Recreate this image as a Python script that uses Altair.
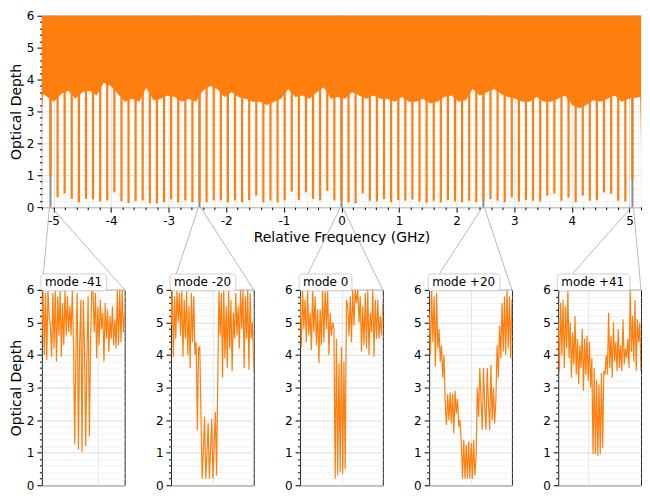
import altair as alt
import pandas as pd

# ---------------- data ----------------
mode_pos = [-5.051, -4.928, -4.805, -4.682, -4.558, -4.435, -4.312, -4.189, -4.066, -3.942,
            -3.819, -3.696, -3.573, -3.450, -3.326, -3.203, -3.080, -2.957, -2.834, -2.710,
            -2.587, -2.464, -2.341, -2.218, -2.094, -1.971, -1.848, -1.725, -1.602, -1.478,
            -1.355, -1.232, -1.109, -0.986, -0.862, -0.739, -0.616, -0.493, -0.370, -0.246,
            -0.123, 0.000, 0.123, 0.246, 0.370, 0.493, 0.616, 0.739, 0.862, 0.986,
            1.109, 1.232, 1.355, 1.478, 1.602, 1.725, 1.848, 1.971, 2.094, 2.218,
            2.341, 2.464, 2.587, 2.710, 2.834, 2.957, 3.080, 3.203, 3.326, 3.450,
            3.573, 3.696, 3.819, 3.942, 4.066, 4.189, 4.312, 4.435, 4.558, 4.682,
            4.805, 4.928, 5.051]
mode_num = list(range(-41, 42))

dip_min = [1.00, 0.31, 0.43, 0.26, 0.15, 0.26, 0.24, 0.18, 0.21, 0.46,
           0.19, 0.13, 0.19, 0.21, 0.12, 0.12, 0.15, 0.24, 0.15, 0.21,
           0.15, 0.15, 0.15, 0.21, 0.21, 0.15, 0.21, 0.15, 0.22, 0.36,
           0.15, 0.21, 0.15, 0.21, 0.49, 0.22, 0.46, 0.26, 0.21, 0.51,
           0.21, 0.20, 0.15, 0.12, 0.43, 0.20, 0.18, 0.25, 0.15, 0.22,
           0.20, 0.24, 0.18, 0.14, 0.20, 0.15, 0.22, 0.18, 0.15, 0.20,
           0.15, 0.20, 0.25, 0.20, 0.15, 0.30, 0.18, 0.22, 0.20, 0.18,
           0.36, 0.43, 0.20, 0.30, 0.15, 0.36, 0.20, 0.22, 0.46, 0.42,
           0.20, 0.18, 0.85]

# lower edge of the dense noise band (upper edge is clipped at 6)
env_x = [-5.200, -5.175,
         -4.990, -4.866, -4.743, -4.620, -4.497, -4.374, -4.250, -4.127, -4.004, -3.881,
         -3.758, -3.634, -3.511, -3.388, -3.265, -3.142, -3.018, -2.895, -2.772, -2.649,
         -2.526, -2.402, -2.279, -2.156, -2.033, -1.910, -1.786, -1.663, -1.540, -1.417,
         -1.294, -1.170, -1.047, -0.924, -0.801, -0.678, -0.554, -0.431, -0.308, -0.185,
         -0.062, 0.062, 0.185, 0.308, 0.431, 0.554, 0.678, 0.801, 0.924, 1.047,
         1.170, 1.294, 1.417, 1.540, 1.663, 1.786, 1.910, 2.033, 2.156, 2.279,
         2.402, 2.526, 2.649, 2.772, 2.895, 3.018, 3.142, 3.265, 3.388, 3.511,
         3.634, 3.758, 3.881, 4.004, 4.127, 4.250, 4.374, 4.497, 4.620, 4.743,
         4.866, 4.990, 5.185, 5.200]
env_y = [2.95, 3.55,
         3.30, 3.55, 3.65, 3.40, 3.60, 3.65, 3.50, 3.90, 3.80, 3.55,
         3.30, 3.40, 3.30, 3.75, 3.35, 3.40, 3.50, 3.45, 3.30, 3.40,
         3.30, 3.65, 3.80, 3.70, 3.45, 3.60, 3.45, 3.40, 3.30, 3.30,
         3.20, 3.30, 3.40, 3.70, 3.45, 3.50, 3.40, 3.60, 3.75, 3.40,
         3.45, 3.40, 3.60, 3.50, 3.40, 3.50, 3.40, 3.40, 3.30, 3.45,
         3.30, 3.30, 3.40, 3.25, 3.30, 3.45, 3.50, 3.30, 3.35, 3.70,
         3.50, 3.60, 3.70, 3.55, 3.45, 3.40, 3.30, 3.30, 3.45, 3.30,
         3.30, 3.40, 3.50, 3.20, 3.10, 3.20, 3.35, 3.30, 3.40, 3.50,
         3.30, 3.40, 3.45, 2.00]

inset_modes = [-41, -20, 0, 20, 41]
inset_labels = ["mode -41", "mode -20", "mode 0", "mode +20", "mode +41"]
inset_od = [
    [4.55, 6.0, 4.0, 5.9, 3.85, 6.0, 5.2, 4.9, 3.95, 5.9, 4.2, 6.0, 3.8, 5.8, 4.6, 6.0, 3.95,
     5.6, 4.3, 6.0, 4.6, 5.8, 4.7, 5.5, 4.6, 6.0,
     4.3, 1.25, 4.3, 5.9, 1.1, 4.3, 5.7, 1.03, 5.7, 4.3, 1.2, 4.0, 5.8, 1.5, 4.4, 6.0,
     6.0, 4.7, 5.9, 3.9, 5.5, 4.3, 5.7, 4.8, 5.3, 3.8, 5.6, 4.5, 5.4, 4.1, 5.2, 4.5, 5.5,
     4.3, 5.1, 4.2, 6.0, 4.3, 6.0, 4.4, 6.0, 4.7, 5.3],
    [4.9, 6.0, 3.95, 5.8, 4.5, 6.0, 5.0, 5.9, 4.6, 6.0, 3.95, 5.7, 4.5, 6.0, 4.0, 5.5, 3.6,
     5.9, 4.4, 5.8, 4.0, 4.4,
     1.7, 4.2, 4.25, 2.2, 0.2, 1.1, 2.1, 0.2, 1.0, 1.9, 0.2, 1.1, 2.05, 0.2, 1.2, 2.25, 0.3,
     3.2, 6.0, 4.6, 5.9, 3.3,
     6.0, 3.9, 5.5, 3.6, 6.0, 4.2, 5.7, 3.5, 5.3, 4.5, 5.9, 4.6, 5.5, 4.2, 6.0, 4.8, 6.0,
     3.6, 5.8, 4.5, 6.0, 3.55, 5.9, 4.5, 5.0, 3.55],
    [5.8, 4.25, 6.0, 4.8, 5.7, 4.4, 6.0, 4.6, 5.3, 4.15, 6.0, 4.7, 5.8, 4.3, 5.4, 3.75, 5.4,
     4.3, 6.0, 4.4, 6.0, 4.8, 6.0, 4.0, 5.3, 4.6, 5.0, 4.8,
     0.2, 4.5, 0.3, 3.75, 0.4, 4.25, 0.35, 3.8, 0.5, 5.7,
     5.5, 4.6, 5.8, 4.4, 6.0, 4.9, 6.0, 5.6, 6.0, 5.0, 5.8, 4.1, 5.5, 4.3, 5.9, 4.2, 6.0,
     4.0, 5.3, 4.7, 6.0, 3.95, 5.7, 4.5, 5.7, 4.5, 5.2, 4.6, 5.6],
    [5.3, 4.0, 6.0, 4.4, 5.8, 3.65, 5.9, 4.2, 4.8, 3.8,
     4.3, 3.3, 4.0, 2.5, 1.85, 2.8, 2.0, 2.85, 1.9, 2.8, 1.6, 2.9, 2.2, 2.65, 1.8, 2.0,
     1.3, 0.2, 1.4, 0.2, 1.25, 0.2, 1.35, 0.2, 1.3, 0.2, 1.4, 0.3, 0.9,
     3.0, 2.1, 3.6, 2.6, 1.7, 3.6, 2.4, 1.7, 3.6, 2.5, 1.7, 3.7, 2.0, 3.0, 1.9, 2.6, 4.3,
     3.3, 4.9, 3.9, 5.6, 4.1, 5.8, 4.0, 6.0, 4.2, 5.8, 3.9, 5.7],
    [5.0, 3.5, 5.6, 4.0, 5.7, 3.6, 5.5, 4.2, 6.0, 3.9, 5.0, 3.3, 4.7, 3.7, 5.2, 3.4, 4.5,
     3.1, 4.3, 3.6, 4.8, 2.9, 4.5, 3.4, 4.6, 3.2, 4.4, 3.0,
     3.9, 0.95, 3.6, 0.95, 3.25, 0.9, 3.1, 0.95, 3.45, 1.15, 3.5, 3.4,
     4.0, 3.4, 5.3, 3.6, 4.6, 3.3, 5.0, 3.8, 4.4, 3.5, 4.8, 3.6, 4.3, 3.5, 5.1, 3.7, 4.2,
     3.9, 4.5, 3.6, 6.0, 4.1, 5.2, 3.8, 5.7, 3.5, 5.1, 4.4, 5.0, 3.5],
]
inset_grid_frac = [0.67, 0.5, 0.5, 0.5, 0.36]

# ---------------- layout / style ----------------
ORANGE = "#ff7f0e"
FONT = "DejaVu Sans"
TOP_W, TOP_H = 601, 192
IN_W, IN_H = 83, 196
H_GAP, V_GAP = 46.5, 83
X_MIN, X_MAX = -5.2, 5.2
Y_MAX = 6
HALF = 0.017
BOX_W = [65, 65, 52, 71, 72]

MAJOR = "abs(datum.value - round(datum.value)) < 1e-6"
tick_size = {"condition": {"test": MAJOR, "value": 5}, "value": 2.5}
grid_color = {"condition": {"test": MAJOR, "value": "#dcdcdc"}, "value": "#f1f1f1"}
label_expr = MAJOR + " ? '' + datum.value : ''"


def steps(lo, hi):
    n = int(round((hi - lo) / 0.2))
    return [round(lo + 0.2 * i, 1) for i in range(n + 1)]


def y_axis():
    return alt.Axis(values=steps(0, 6), labelExpr=label_expr, tickSize=tick_size,
                    gridColor=grid_color, domain=False, labelPadding=3, titlePadding=3)


x_axis_top = alt.Axis(values=steps(-5.2, 5.2), labelExpr=label_expr, tickSize=tick_size,
                      gridColor=grid_color, domain=False, labelPadding=3, titlePadding=4)

xs = alt.Scale(domain=[X_MIN, X_MAX], nice=False, zero=False)
ys = alt.Scale(domain=[0, Y_MAX], nice=False, zero=False)


def X(field):
    return alt.X(field, type="quantitative", scale=xs, axis=x_axis_top,
                 title="Relative Frequency (GHz)")


def Y(field):
    return alt.Y(field, type="quantitative", scale=ys, axis=y_axis(),
                 title="Optical Depth")


# ---------------- top panel ----------------
env_df = pd.DataFrame({"freq": env_x, "od": env_y})
dip_df = pd.DataFrame({"freq": mode_pos, "od": dip_min, "mode": mode_num})

sel_pos = [mode_pos[mode_num.index(m)] for m in inset_modes]
ind_df = pd.DataFrame({"freq": [p - HALF for p in sel_pos],
                       "freq2": [p + HALF for p in sel_pos],
                       "od": [0] * len(sel_pos)})

# connectors: rectangle bottom corners -> inset top corners (converted to top-panel units)
px_to_ghz = (X_MAX - X_MIN) / TOP_W
y_inset_top = -V_GAP / TOP_H * Y_MAX
con_rows = []
for i, p in enumerate(sel_pos):
    left_px = i * (IN_W + H_GAP)
    con_rows.append({"freq": p - HALF, "od": 0, "freq2": X_MIN + left_px * px_to_ghz,
                     "od2": y_inset_top})
    con_rows.append({"freq": p + HALF, "od": 0, "freq2": X_MIN + (left_px + IN_W) * px_to_ghz,
                     "od2": y_inset_top})
con_df = pd.DataFrame(con_rows)

ind = alt.Chart(ind_df).mark_rect(color="#8a8a8a").encode(
    x=X("freq"), x2="freq2", y=Y("od"), y2=alt.datum(Y_MAX))
dips = alt.Chart(dip_df).mark_rule(color=ORANGE, strokeWidth=2.2).encode(
    x=X("freq"), y=Y("od"), y2=alt.datum(4.0))
band = alt.Chart(env_df).mark_area(color=ORANGE, opacity=1).encode(
    x=X("freq"), y=Y("od"), y2=alt.datum(Y_MAX))
conn = alt.Chart(con_df).mark_rule(color="#a8a8a8", strokeWidth=1, opacity=0.8).encode(
    x=X("freq"), y=Y("od"), x2="freq2", y2="od2")

top = alt.layer(ind, dips, band, conn).properties(width=TOP_W, height=TOP_H)

# ---------------- insets ----------------
insets = []
for k in range(len(inset_modes)):
    vals = inset_od[k]
    n = len(vals)
    df = pd.DataFrame({"i": list(range(n)), "od": vals})
    xsc = alt.Scale(domain=[0, n - 1], nice=False, zero=False)
    xax = alt.Axis(values=[round(inset_grid_frac[k] * (n - 1), 2)], labels=False, ticks=False,
                   domain=False, grid=True, gridColor="#e4e4e4")
    yax = y_axis()
    yenc = alt.Y("od:Q", scale=ys, axis=yax, title="Optical Depth") if k == 0 else \
        alt.Y("od:Q", scale=ys, axis=yax, title=None)
    line = alt.Chart(df).mark_line(color=ORANGE, strokeWidth=1.2, clip=True).encode(
        x=alt.X("i:Q", scale=xsc, axis=xax, title=None), y=yenc)
    lab_df = pd.DataFrame({"label": [inset_labels[k]]})
    box = alt.Chart(lab_df).mark_rect(fill="white", stroke="#cfcfcf", strokeWidth=1,
                                      cornerRadius=3).encode(
        x=alt.value(-1), x2=alt.value(BOX_W[k]), y=alt.value(-16), y2=alt.value(1))
    txt = alt.Chart(lab_df).mark_text(align="left", baseline="middle", fontSize=12,
                                      font=FONT, color="black").encode(
        x=alt.value(3), y=alt.value(-7.5), text="label:N")
    insets.append(alt.layer(line, box, txt).properties(width=IN_W, height=IN_H))

row = alt.hconcat(*insets, spacing=H_GAP, bounds="flush").resolve_scale(
    x="independent", y="independent")

chart = alt.vconcat(top, row, spacing=V_GAP, bounds="flush").resolve_scale(
    x="independent", y="independent").properties(padding=0).configure_axis(
    labelFont=FONT, titleFont=FONT, labelFontSize=12, titleFontSize=14,
    labelColor="black", titleColor="black", titleFontWeight="normal",
    tickColor="black", tickWidth=1
).configure_view(stroke="#222222", strokeWidth=1)

chart.save("out.html", embed_options={"renderer": "svg", "actions": False})
